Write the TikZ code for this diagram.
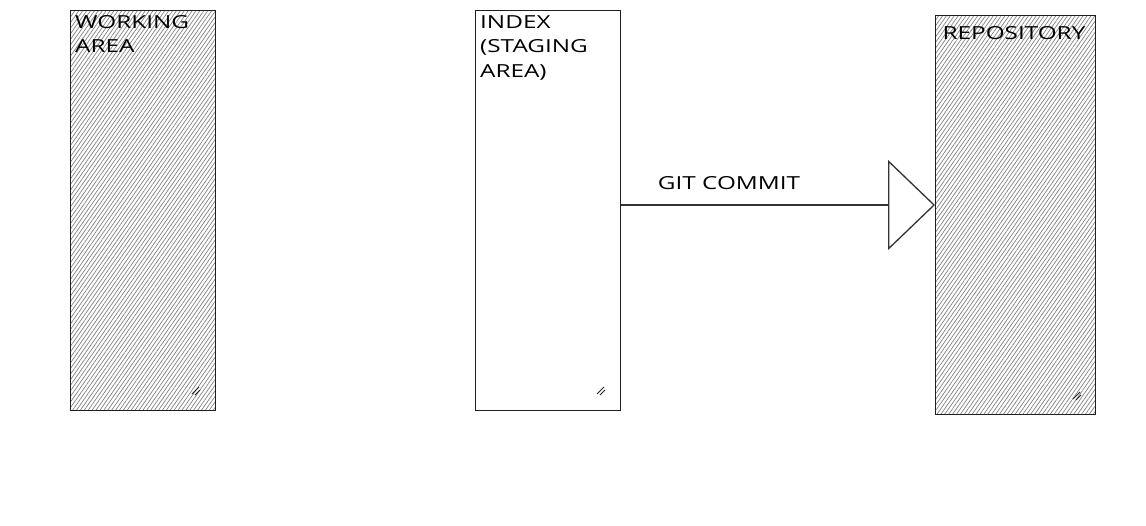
\documentclass[tikz,border=0pt]{standalone}
\usepackage{fontspec}
\setmainfont{Open Sans}
\newfontfamily\sketchfont[FakeStretch=1.35]{Open Sans}
\usetikzlibrary{patterns.meta,arrows.meta,positioning}
\tikzset{
  area/.style={draw=black!88, line width=1.3pt, anchor=north west, inner sep=0pt},
  hatched/.style={pattern={Lines[angle=55, distance=3.2pt, line width=0.7pt]}, pattern color=black!50},
  txt/.style={font=\sketchfont\fontsize{18}{24.5}\selectfont, inner sep=0pt},
  lbl/.style={txt, anchor=north west, align=left},
  grip/.style={line width=0.9pt, black!85},
}
\begin{document}
\begin{tikzpicture}[x=1pt,y=-1pt]
\useasboundingbox (0,0) rectangle (1146,525);
% boxes
\node[area, hatched, minimum width=145pt, minimum height=400pt] (wa) at (70,10) {};
\node[area, fill=white, minimum width=145pt, minimum height=400pt] (idx) at (475,10) {};
\node[area, hatched, minimum width=160pt, minimum height=399pt] (repo) at (935,15) {};
% labels
\node[lbl] (walbl) at (75,15) {WORKING\\AREA};
\node[lbl] (idxlbl) at (480,15) {INDEX\\(STAGING\\AREA)};
\node[txt, anchor=base] (repolbl) at (1014,39) {REPOSITORY};
% arrow
\coordinate (tip) at (repo.west |- 0,205);
\draw[line width=1.3pt, black!80, -{Triangle[open, length=47pt, width=90pt, line width=1.3pt]}] (idx.east |- tip) -- (tip);
\node[txt, anchor=base] (cmt) at (729,189) {GIT COMMIT};
% resize grips
\draw[grip] (192,394) -- (199,387) (195,395) -- (200,390);
\draw[grip] (597,394) -- (604,387) (600,395) -- (605,390);
\draw[grip] (1073,399) -- (1080,392) (1076,400) -- (1081,395);
\end{tikzpicture}
\end{document}
